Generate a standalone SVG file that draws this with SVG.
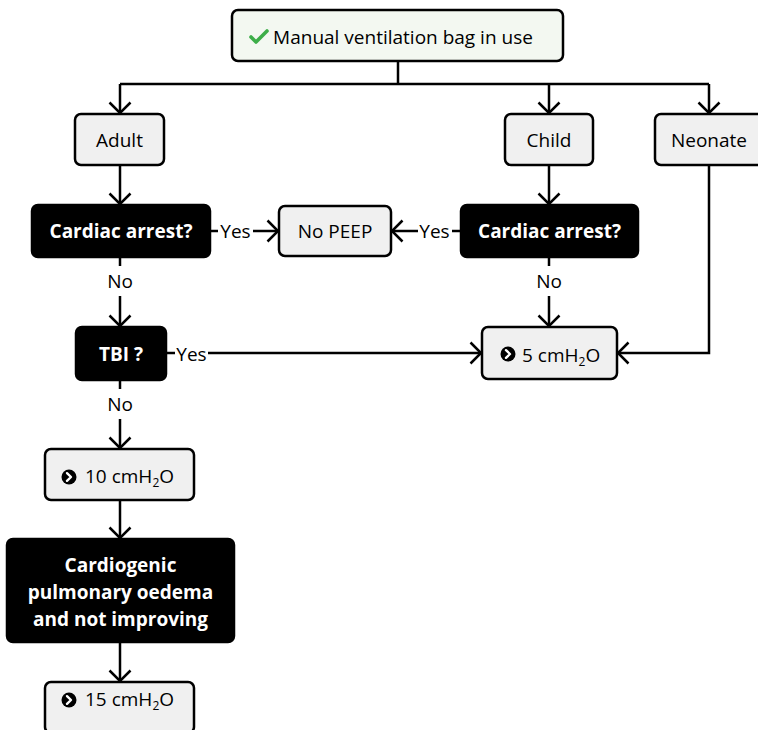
<svg xmlns="http://www.w3.org/2000/svg" width="758" height="730" viewBox="0 0 758 730">
  <style>
    .box { fill: #f0f0f0; stroke: #000; stroke-width: 2.5; }
    .start { fill: #f3f8f1; stroke: #000; stroke-width: 2.5; }
    .decision { fill: #000; stroke: #000; stroke-width: 2.5; }
    .t { font-family: "Open Sans", "Noto Sans", "Liberation Sans", sans-serif; font-size: 19px; fill: #000; }
    .tb { font-family: "Open Sans", "Noto Sans", "Liberation Sans", sans-serif; font-size: 19px; font-weight: bold; fill: #fff; }
    .lbl { font-family: "Open Sans", "Noto Sans", "Liberation Sans", sans-serif; font-size: 19px; fill: #000; }
    .c { fill: none; stroke: #000; stroke-width: 2.5; }
    .sub { font-size: 12px; }
  </style>
  <defs>
    <marker id="arrow" markerUnits="userSpaceOnUse" markerWidth="26" markerHeight="26" refX="12" refY="12" orient="auto" overflow="visible">
      <path d="M1.5,1.5 L12,12 L1.5,22.5" fill="none" stroke="#000" stroke-width="2.5"/>
    </marker>
    <g id="chev">
      <circle r="7.5" fill="#000"/>
      <path d="M-2,-3.8 L2,0 L-2,3.8" fill="none" stroke="#fff" stroke-width="2.4" stroke-linecap="round" stroke-linejoin="round"/>
    </g>
  </defs>

  <!-- connectors -->
  <g id="connectors">
    <path class="c" d="M398,61 V84"/>
    <path class="c" d="M120,84 H709"/>
    <path class="c" d="M120,84 V113" marker-end="url(#arrow)"/>
    <path class="c" d="M549,84 V113" marker-end="url(#arrow)"/>
    <path class="c" d="M709,84 V113" marker-end="url(#arrow)"/>
    <path class="c" d="M120,165 V204" marker-end="url(#arrow)"/>
    <path class="c" d="M549,165 V204" marker-end="url(#arrow)"/>
    <!-- adult cardiac arrest: yes -->
    <path class="c" d="M210,231 H218"/>
    <text class="lbl" x="235.5" y="238" text-anchor="middle">Yes</text>
    <path class="c" d="M253,231 H278" marker-end="url(#arrow)"/>
    <!-- child cardiac arrest: yes -->
    <path class="c" d="M461,231 H452"/>
    <text class="lbl" x="434.5" y="238" text-anchor="middle">Yes</text>
    <path class="c" d="M418,231 H392" marker-end="url(#arrow)"/>
    <!-- adult cardiac arrest: no -->
    <path class="c" d="M120,257 V266"/>
    <text class="lbl" x="120" y="288" text-anchor="middle">No</text>
    <path class="c" d="M120,296 V326" marker-end="url(#arrow)"/>
    <!-- child cardiac arrest: no -->
    <path class="c" d="M549,258 V266"/>
    <text class="lbl" x="549" y="288" text-anchor="middle">No</text>
    <path class="c" d="M549,296 V326" marker-end="url(#arrow)"/>
    <!-- TBI: yes -->
    <path class="c" d="M166,353 H175"/>
    <text class="lbl" x="191.5" y="361" text-anchor="middle">Yes</text>
    <path class="c" d="M208,353 H481" marker-end="url(#arrow)"/>
    <!-- TBI: no -->
    <path class="c" d="M120,380 V389"/>
    <text class="lbl" x="120" y="411" text-anchor="middle">No</text>
    <path class="c" d="M120,419 V448" marker-end="url(#arrow)"/>
    <!-- neonate -->
    <path class="c" d="M709,165 V353 H618" marker-end="url(#arrow)"/>
    <path class="c" d="M120,500 V538" marker-end="url(#arrow)"/>
    <path class="c" d="M120,642 V681" marker-end="url(#arrow)"/>
  </g>

  <g id="start">
    <rect class="start" x="232" y="10" width="331" height="51" rx="6"/>
    <path d="M251,37 L256,42 L267,31" fill="none" stroke="#3dae49" stroke-width="3.6" stroke-linecap="round" stroke-linejoin="round"/>
    <text class="t" x="403" y="44" text-anchor="middle">Manual ventilation bag in use</text>
  </g>

  <g id="adult">
    <rect class="box" x="75" y="114" width="89" height="51" rx="6"/>
    <text class="t" x="119.5" y="147" text-anchor="middle">Adult</text>
  </g>

  <g id="child">
    <rect class="box" x="505" y="114" width="88" height="51" rx="6"/>
    <text class="t" x="549" y="147" text-anchor="middle">Child</text>
  </g>

  <g id="neonate">
    <rect class="box" x="655" y="114" width="108" height="51" rx="6"/>
    <text class="t" x="709" y="147" text-anchor="middle">Neonate</text>
  </g>

  <g id="adult-arrest">
    <rect class="decision" x="32" y="205" width="178" height="52" rx="6"/>
    <text class="tb" x="121" y="238" text-anchor="middle">Cardiac arrest?</text>
  </g>

  <g id="no-peep">
    <rect class="box" x="279" y="206" width="112" height="50" rx="6"/>
    <text class="t" x="335" y="238" text-anchor="middle">No PEEP</text>
  </g>

  <g id="child-arrest">
    <rect class="decision" x="461" y="205" width="177" height="52" rx="6"/>
    <text class="tb" x="549.5" y="238" text-anchor="middle">Cardiac arrest?</text>
  </g>

  <g id="tbi">
    <rect class="decision" x="76" y="327" width="90" height="53" rx="6"/>
    <text class="tb" x="121" y="361" text-anchor="middle">TBI ?</text>
  </g>

  <g id="peep-5">
    <rect class="box" x="482" y="327" width="135" height="52" rx="6"/>
    <use href="#chev" x="508" y="354"/>
    <text class="t" x="522" y="362">5 cmH<tspan class="sub" dy="4">2</tspan><tspan dy="-4">O</tspan></text>
  </g>

  <g id="peep-10">
    <rect class="box" x="45" y="449" width="149" height="51" rx="6"/>
    <use href="#chev" x="69" y="477"/>
    <text class="t" x="85" y="483">10 cmH<tspan class="sub" dy="4">2</tspan><tspan dy="-4">O</tspan></text>
  </g>

  <g id="cardiogenic">
    <rect class="decision" x="7" y="539" width="227" height="103" rx="6"/>
    <text class="tb" x="120.5" y="572" text-anchor="middle">Cardiogenic</text>
    <text class="tb" x="120.5" y="599" text-anchor="middle">pulmonary oedema</text>
    <text class="tb" x="120.5" y="626" text-anchor="middle">and not improving</text>
  </g>

  <g id="peep-15">
    <rect class="box" x="45" y="682" width="149" height="51" rx="6"/>
    <use href="#chev" x="69" y="700"/>
    <text class="t" x="85" y="706">15 cmH<tspan class="sub" dy="4">2</tspan><tspan dy="-4">O</tspan></text>
  </g>
</svg>
